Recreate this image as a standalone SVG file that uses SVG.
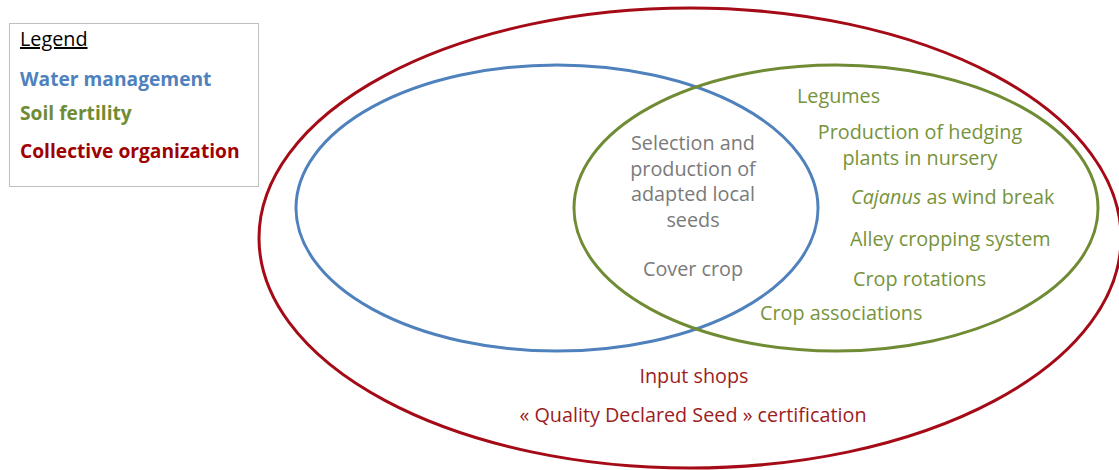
<svg xmlns="http://www.w3.org/2000/svg" width="1119" height="470" viewBox="0 0 1119 470">
<style>
text{font-family:"Open Sans","Noto Sans",sans-serif;font-size:19.8px}
.c{text-anchor:middle}
.g{fill:#77933c}
.gr{fill:#7a7a7a}
.r{fill:#9c1c24}
.b{font-weight:bold;font-size:19.2px}
.ell{fill:none;stroke-width:3}
</style>
<rect width="1119" height="470" fill="#fff"/>
<g id="legend">
<rect x="9.5" y="23.5" width="249" height="163" fill="#fff" stroke="#bfbfbf" stroke-width="1"/>
<text x="20" y="46" fill="#000" text-decoration="underline">Legend</text>
<text x="20" y="86" class="b" fill="#4f81bd">Water management</text>
<text x="20" y="120" class="b" fill="#6f8c35">Soil fertility</text>
<text x="20" y="158" class="b" fill="#a00000">Collective organization</text>
</g>
<g id="collective">
<ellipse class="ell" cx="690" cy="238" rx="431" ry="230" stroke="#a50b17"/>
<text class="r c" x="694" y="383">Input shops</text>
<text class="r c" x="693" y="422">« Quality Declared Seed » certification</text>
</g>
<g id="water">
<ellipse class="ell" cx="557" cy="208" rx="261" ry="143" stroke="#4f81bd"/>
</g>
<g id="soil">
<ellipse class="ell" cx="836" cy="208" rx="262" ry="143" stroke="#6f8c35"/>
<text class="g" x="797" y="103">Legumes</text>
<text class="g c" x="920" y="139">Production of hedging</text>
<text class="g c" x="920" y="165">plants in nursery</text>
<text class="g" x="851" y="204"><tspan font-style="italic">Cajanus</tspan> as wind break</text>
<text class="g" x="850" y="246">Alley cropping system</text>
<text class="g" x="853" y="286">Crop rotations</text>
<text class="g" x="760" y="320">Crop associations</text>
</g>
<g id="overlap">
<text class="gr c" x="693" y="150">Selection and</text>
<text class="gr c" x="693" y="176">production of</text>
<text class="gr c" x="693" y="201">adapted local</text>
<text class="gr c" x="693" y="227">seeds</text>
<text class="gr c" x="693" y="276">Cover crop</text>
</g>
<g id="connectors"/>
</svg>
